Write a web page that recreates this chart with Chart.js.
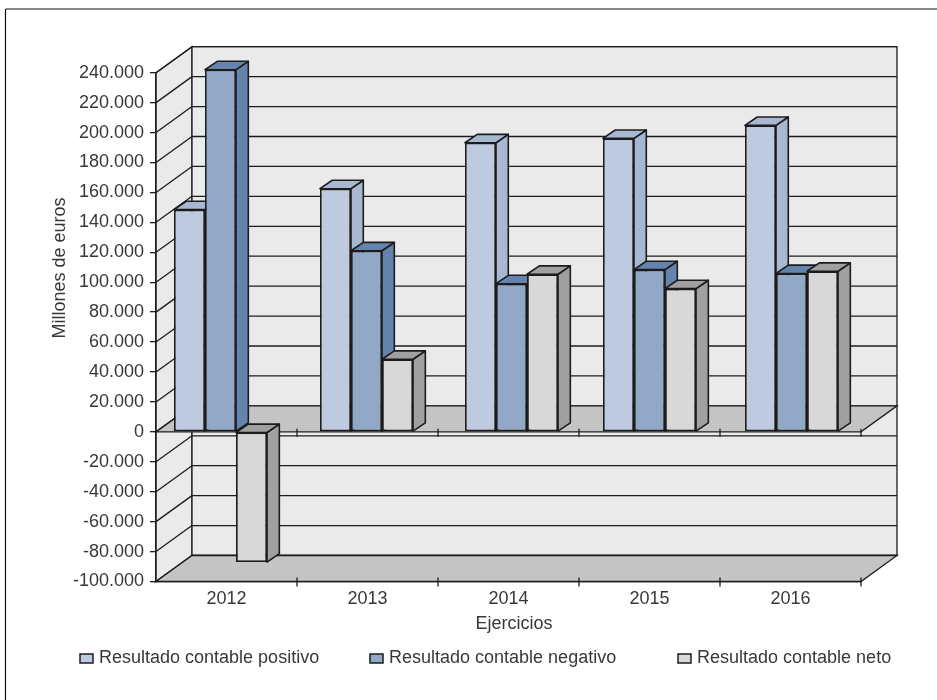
<!DOCTYPE html>
<html lang="es">
<head>
<meta charset="utf-8">
<title>Resultado contable</title>
<script src="https://cdn.jsdelivr.net/npm/chart.js@4/dist/chart.umd.min.js"></script>
<style>
  html, body { margin: 0; padding: 0; background: #fff; }
  canvas { display: block; }
</style>
</head>
<body>
<canvas id="resultChart" width="937" height="700"></canvas>
<script>
var years = ["2012", "2013", "2014", "2015", "2016"];
var positivo = [148500, 162500, 193200, 196100, 204800];
var negativo = [242000, 121000, 99000, 108400, 105800];
var neto = [-87000, 48500, 105300, 95700, 107300];

var yMin = -100000;
var yMax = 240000;
var yStep = 20000;

var INK = "#1c1c1c";
var TEXT = "#383838";
var WALL = "#eaeaea";
var FLOOR = "#c4c4c4";
var FONT = "'Liberation Sans', Arial, sans-serif";

// depth of the box behind the plot, and of each bar
var wallDX = 36, wallDY = 26;
var barDX = 12.3, barDY = 8.4;
// the bar groups do not sit exactly centred on their years
var groupShift = [-6, -1, 3, 0, 1];

var seriesStyles = [
  { label: "Resultado contable positivo", front: "#bdcadf", side: "#a8b8d2", legendX: 80 },
  { label: "Resultado contable negativo", front: "#92a8c7", side: "#6484ae", legendX: 370 },
  { label: "Resultado contable neto", front: "#d8d8d8", side: "#a0a0a0", legendX: 678 }
];
var seriesValues = [positivo, negativo, neto];

function poly(ctx, pts, fill) {
  ctx.beginPath();
  ctx.moveTo(pts[0][0], pts[0][1]);
  for (var i = 1; i < pts.length; i++) ctx.lineTo(pts[i][0], pts[i][1]);
  ctx.closePath();
  if (fill) {
    ctx.fillStyle = fill;
    ctx.fill();
  }
  ctx.stroke();
}

function hLine(ctx, x0, y0, x1, y1) {
  ctx.beginPath();
  ctx.moveTo(x0, y0);
  ctx.lineTo(x1, y1);
  ctx.stroke();
}

// walls, floors, gridlines and the page rules around the chart
var box3d = {
  id: "box3d",
  beforeDraw: function (chart) {
    var ctx = chart.ctx;
    var a = chart.chartArea;
    var y = chart.scales.y;
    var x = chart.scales.x;
    var zero = y.getPixelForValue(0);
    var step = (a.right - a.left) / years.length;

    ctx.save();
    ctx.strokeStyle = "#111";
    ctx.lineWidth = 1.2;
    hLine(ctx, 5.5, 9, 937, 9);
    hLine(ctx, 5.5, 9, 5.5, 700);

    ctx.strokeStyle = INK;
    ctx.lineWidth = 1.3;
    poly(ctx, [[a.left, a.top], [a.left + wallDX, a.top - wallDY], [a.left + wallDX, a.bottom - wallDY], [a.left, a.bottom]], WALL);
    poly(ctx, [[a.left + wallDX, a.top - wallDY], [a.right + wallDX, a.top - wallDY], [a.right + wallDX, a.bottom - wallDY], [a.left + wallDX, a.bottom - wallDY]], WALL);

    y.ticks.forEach(function (t) {
      var py = y.getPixelForValue(t.value);
      hLine(ctx, a.left, py, a.left + wallDX, py - wallDY);
      hLine(ctx, a.left + wallDX, py - wallDY, a.right + wallDX, py - wallDY);
    });

    poly(ctx, [[a.left, a.bottom], [a.left + wallDX, a.bottom - wallDY], [a.right + wallDX, a.bottom - wallDY], [a.right, a.bottom]], FLOOR);
    poly(ctx, [[a.left, zero], [a.left + wallDX, zero - wallDY], [a.right + wallDX, zero - wallDY], [a.right, zero]], FLOOR);

    // year separators cross both the zero line and the bottom axis
    for (var i = 1; i <= years.length; i++) {
      var tx = x.getPixelForValue(i - 1) + step / 2;
      hLine(ctx, tx, zero - 3, tx, zero + 5);
      hLine(ctx, tx, a.bottom - 4, tx, a.bottom + 5);
    }
    ctx.restore();
  },

  afterDatasetsUpdate: function (chart) {
    chart.getSortedVisibleDatasetMetas().forEach(function (meta) {
      meta.data.forEach(function (bar, i) {
        bar.x += groupShift[i];
      });
    });
  },

  // paint series left to right so each one overlaps the side of the previous,
  // the library would otherwise go from the last dataset to the first
  beforeDatasetsDraw: function (chart) {
    var ctx = chart.ctx;
    seriesStyles.forEach(function (style, index) {
      var meta = chart.getDatasetMeta(index);
      ctx.save();
      ctx.strokeStyle = INK;
      ctx.lineWidth = 1.6;
      ctx.lineJoin = "round";
      meta.data.forEach(function (bar) {
        var l = bar.x - bar.width / 2;
        var r = bar.x + bar.width / 2;
        var top = Math.min(bar.y, bar.base);
        var bottom = Math.max(bar.y, bar.base);
        poly(ctx, [[r, top], [r + barDX, top - barDY], [r + barDX, bottom - barDY], [r, bottom]], style.side);
        poly(ctx, [[l, top], [l + barDX, top - barDY], [r + barDX, top - barDY], [r, top]], style.side);
      });
      ctx.restore();
      meta.controller.draw();
    });
    return false;
  },

  afterDraw: function (chart) {
    var ctx = chart.ctx;
    ctx.save();
    ctx.fillStyle = TEXT;
    ctx.font = "18px " + FONT;
    ctx.textBaseline = "middle";

    ctx.textAlign = "center";
    ctx.fillText("Ejercicios", 514, 624);
    ctx.save();
    ctx.translate(60, 268);
    ctx.rotate(-Math.PI / 2);
    ctx.fillText("Millones de euros", 0, 0);
    ctx.restore();

    ctx.textAlign = "left";
    ctx.strokeStyle = INK;
    ctx.lineWidth = 1.5;
    seriesStyles.forEach(function (s) {
      ctx.fillStyle = s.front;
      ctx.fillRect(s.legendX, 654, 13, 9);
      ctx.strokeRect(s.legendX, 654, 13, 9);
      ctx.fillStyle = TEXT;
      ctx.fillText(s.label, s.legendX + 19, 658);
    });
    ctx.restore();
  }
};

var ctx = document.getElementById("resultChart").getContext("2d");
var resultChart = new Chart(ctx, {
  type: "bar",
  data: {
    labels: years,
    datasets: seriesStyles.map(function (s, i) {
      return {
        label: s.label,
        data: seriesValues[i],
        backgroundColor: s.front,
        borderColor: INK,
        borderWidth: 1.8,
        borderSkipped: false,
        categoryPercentage: 0.66,
        barPercentage: 1
      };
    })
  },
  plugins: [box3d],
  options: {
    responsive: false,
    animation: false,
    events: [],
    layout: { padding: { top: 72.7, right: 76, bottom: 70, left: 0 } },
    plugins: {
      legend: { display: false },
      title: { display: false },
      tooltip: { enabled: false }
    },
    scales: {
      x: {
        grid: { display: false },
        border: { display: true, color: INK, width: 1.3 },
        ticks: { color: TEXT, font: { family: FONT, size: 18 }, padding: -1, maxRotation: 0 },
        afterFit: function (scale) { scale.height = 48.5; }
      },
      y: {
        min: yMin,
        max: yMax,
        grid: { drawOnChartArea: false, tickLength: 6, color: INK, lineWidth: 1.3 },
        border: { display: true, color: INK, width: 1.3 },
        ticks: {
          stepSize: yStep,
          color: TEXT,
          font: { family: FONT, size: 18 },
          padding: 6,
          callback: function (value) {
            return value.toLocaleString("de-DE");
          }
        },
        afterFit: function (scale) { scale.width = 156; }
      }
    }
  }
});
</script>
</body>
</html>
